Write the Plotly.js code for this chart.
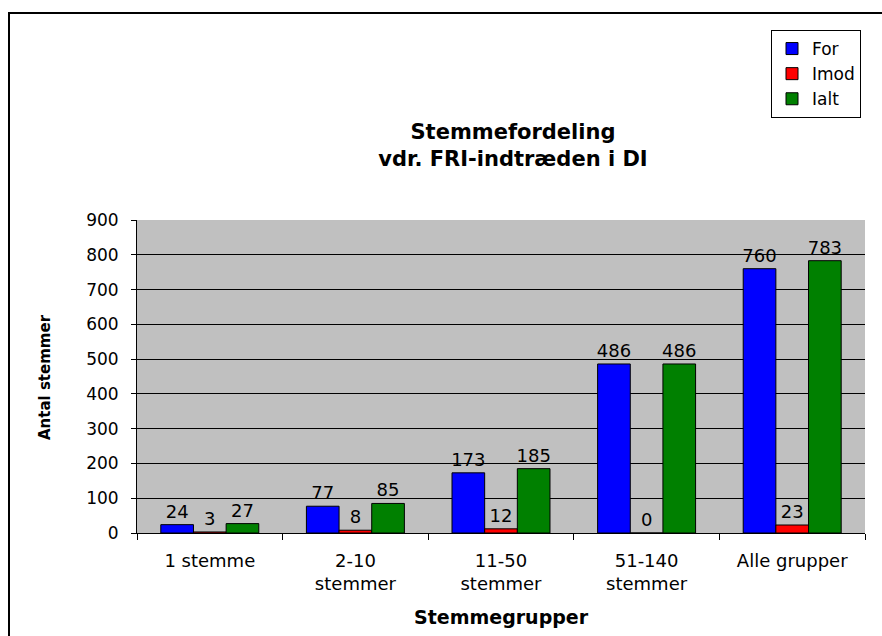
<!DOCTYPE html>
<html>
<head>
<meta charset="utf-8">
<script src="https://cdn.plot.ly/plotly-3.0.1.min.js"></script>
<style>
  html, body { margin: 0; padding: 0; background: #fff; }
  #wrap { position: relative; width: 882px; height: 636px; }
  #chart { width: 882px; height: 636px; }
  #frame { position: absolute; left: 8px; top: 12px; width: 880px; height: 640px;
           border-left: 2px solid #000; border-top: 2px solid #000; pointer-events: none; }
</style>
</head>
<body>
<div id="wrap">
  <div id="chart"></div>
  <div id="frame"></div>
</div>
<script>
const categories = ["1 stemme", "2-10<br>stemmer", "11-50<br>stemmer", "51-140<br>stemmer", "Alle grupper"];
const forVotes = [24, 77, 173, 486, 760];
const imodVotes = [3, 8, 12, 0, 23];
const ialtVotes = [27, 85, 185, 486, 783];
const seriesNames = ["For", "Imod", "Ialt"];
const yTicks = [0, 100, 200, 300, 400, 500, 600, 700, 800, 900];

const FONT = "DejaVu Sans, Verdana, sans-serif";
const colors = ["#0000FF", "#FF0000", "#008000"];
const seriesValues = [forVotes, imodVotes, ialtVotes];

const traces = seriesValues.map((vals, i) => ({
  type: "bar",
  name: seriesNames[i],
  x: categories,
  y: vals,
  text: vals.map(String),
  textposition: "outside",
  constraintext: "none",
  cliponaxis: false,
  textfont: { family: FONT, size: 18, color: "#000" },
  marker: { color: colors[i], line: { color: "#000", width: 1 } },
  hoverinfo: "none"
}));

const layout = {
  width: 882,
  height: 636,
  margin: { l: 137, r: 17, t: 220, b: 103 },
  paper_bgcolor: "#FFFFFF",
  plot_bgcolor: "#C0C0C0",
  font: { family: FONT, size: 17, color: "#000" },
  barmode: "group",
  bargap: 0.327,
  bargroupgap: 0,
  title: {
    text: "<b>Stemmefordeling<br>vdr. FRI-indtræden i DI</b>",
    font: { family: FONT, size: 21, color: "#000" },
    xref: "paper", x: 0.5165, xanchor: "center",
    yref: "container", y: 1 - 139 / 636, yanchor: "middle"
  },
  xaxis: {
    type: "category",
    showline: true, linecolor: "#000", linewidth: 1,
    ticks: "outside", tickson: "boundaries", ticklen: 6, tickcolor: "#000",
    ticklabelstandoff: 11,
    showgrid: false,
    tickfont: { family: FONT, size: 18, color: "#000" },
    fixedrange: true
  },
  yaxis: {
    range: [0, 900],
    tickvals: yTicks,
    ticktext: yTicks.map(String),
    showline: true, linecolor: "#000", linewidth: 1,
    ticks: "outside", ticklen: 5, tickcolor: "#000",
    ticklabelstandoff: 9,
    showgrid: true, gridcolor: "#000", gridwidth: 1,
    zeroline: false,
    tickfont: { family: FONT, size: 17, color: "#000" },
    fixedrange: true
  },
  legend: {
    x: (771 - 137) / 728, xanchor: "left",
    y: (533 - 30) / 313, yanchor: "top",
    bgcolor: "#FFFFFF", bordercolor: "#000", borderwidth: 1,
    font: { family: FONT, size: 17, color: "#000" },
    tracegroupgap: 0,
    itemwidth: 30
  },
  annotations: [
    {
      text: "<b>Antal stemmer</b>",
      xref: "paper", yref: "paper",
      x: (45 - 137) / 728, y: (533 - 377) / 313,
      xanchor: "center", yanchor: "middle",
      textangle: -90, showarrow: false,
      font: { family: FONT, size: 15, color: "#000" }
    },
    {
      text: "<b>Stemmegrupper</b>",
      xref: "paper", yref: "paper",
      x: 0.5, y: -(617 - 533) / 313,
      xanchor: "center", yanchor: "middle",
      showarrow: false,
      font: { family: FONT, size: 19, color: "#000" }
    }
  ],
  showlegend: true
};

Plotly.newPlot("chart", traces, layout, { displayModeBar: false, staticPlot: true });
</script>
</body>
</html>
